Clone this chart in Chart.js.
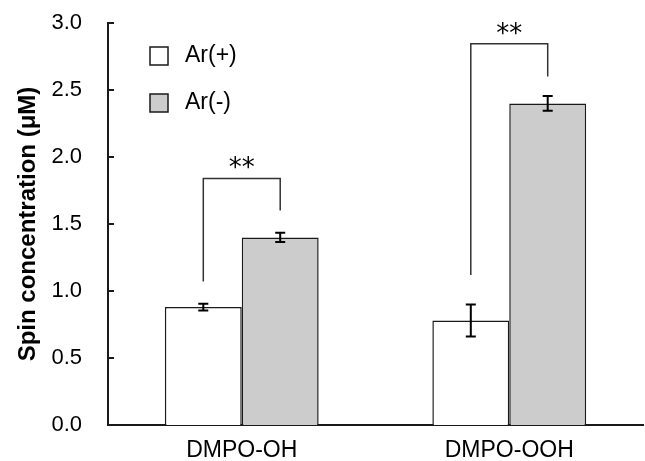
<!DOCTYPE html>
<html>
<head>
<meta charset="utf-8">
<script src="https://cdn.jsdelivr.net/npm/chart.js@4.4.1/dist/chart.umd.min.js"></script>
<style>
  html, body { margin: 0; padding: 0; background: #fff; }
  #wrap { width: 645px; height: 461px; }
</style>
</head>
<body>
<div id="wrap"><canvas id="myChart"></canvas></div>
<script>
// spin concentration, two trapping agents, with / without Ar purge
const categories = ["DMPO-OH", "DMPO-OOH"];
const arPlus = [0.88, 0.78];
const arPlusErr = [0.025, 0.12];
const arMinus = [1.40, 2.40];
const arMinusErr = [0.035, 0.055];

// significance brackets (left end, top, right end) and their marks
const bracketLeft = [1.07, 1.12];
const bracketTop = [1.84, 2.845];
const bracketRight = [1.60, 2.60];
const bracketMark = ["**", "**"];

const yMin = 0;
const yMax = 3.0;
const yStep = 0.5;

const errors = [arPlusErr, arMinusErr];
const ink = "#1a1a1a";

// error bars on top of each bar
const errorBars = {
  id: "errorBars",
  afterDatasetsDraw(chart) {
    const ctx = chart.ctx;
    const y = chart.scales.y;
    ctx.save();
    ctx.strokeStyle = "#000";
    ctx.lineWidth = 2;
    chart.data.datasets.forEach(function(ds, di) {
      const meta = chart.getDatasetMeta(di);
      meta.data.forEach(function(bar, i) {
        const v = ds.data[i];
        const e = errors[di][i];
        const top = y.getPixelForValue(v + e);
        const bot = y.getPixelForValue(v - e);
        ctx.beginPath();
        ctx.moveTo(bar.x, top);
        ctx.lineTo(bar.x, bot);
        ctx.moveTo(bar.x - 5, top);
        ctx.lineTo(bar.x + 5, top);
        ctx.moveTo(bar.x - 5, bot);
        ctx.lineTo(bar.x + 5, bot);
        ctx.stroke();
      });
    });
    ctx.restore();
  }
};

// brackets with ** between the two bars of each group
const brackets = {
  id: "brackets",
  afterDatasetsDraw(chart) {
    const ctx = chart.ctx;
    const y = chart.scales.y;
    const m0 = chart.getDatasetMeta(0);
    const m1 = chart.getDatasetMeta(1);
    ctx.save();
    ctx.strokeStyle = "#333";
    ctx.lineWidth = 1.5;
    for (let i = 0; i < categories.length; i++) {
      const x0 = m0.data[i].x;
      const x1 = m1.data[i].x;
      const yt = y.getPixelForValue(bracketTop[i]);
      ctx.beginPath();
      ctx.moveTo(x0, y.getPixelForValue(bracketLeft[i]));
      ctx.lineTo(x0, yt);
      ctx.lineTo(x1, yt);
      ctx.lineTo(x1, y.getPixelForValue(bracketRight[i]));
      ctx.stroke();
      ctx.fillStyle = "#000";
      ctx.font = "26px 'DejaVu Sans'";
      ctx.textAlign = "center";
      ctx.textBaseline = "middle";
      ctx.fillText(bracketMark[i], (x0 + x1) / 2, yt - 9);
    }
    ctx.restore();
  }
};

// inward tick marks on the y axis
const innerTicks = {
  id: "innerTicks",
  afterDraw(chart) {
    const ctx = chart.ctx;
    const y = chart.scales.y;
    const left = chart.chartArea.left;
    ctx.save();
    ctx.strokeStyle = ink;
    ctx.lineWidth = 2;
    y.ticks.forEach(function(t) {
      const py = Math.round(y.getPixelForValue(t.value));
      ctx.beginPath();
      ctx.moveTo(left, py);
      ctx.lineTo(left + 6, py);
      ctx.stroke();
    });
    ctx.restore();
  }
};

// legend box inside the plot, top left
const boxLegend = {
  id: "boxLegend",
  afterDraw(chart) {
    const ctx = chart.ctx;
    const rows = [56, 103];
    ctx.save();
    chart.data.datasets.forEach(function(ds, i) {
      const cy = rows[i];
      ctx.fillStyle = ds.backgroundColor;
      ctx.fillRect(150, cy - 9, 18, 18);
      ctx.strokeStyle = ink;
      ctx.lineWidth = 1.5;
      ctx.strokeRect(150, cy - 9, 18, 18);
      ctx.fillStyle = "#000";
      ctx.font = "23px 'Liberation Sans', Arial, sans-serif";
      ctx.textAlign = "left";
      ctx.textBaseline = "middle";
      ctx.fillText(ds.label, 185, cy);
    });
    ctx.restore();
  }
};

const myChart = new Chart(document.getElementById("myChart"), {
  type: "bar",
  data: {
    labels: categories,
    datasets: [
      {
        label: "Ar(+)",
        data: arPlus,
        backgroundColor: "#ffffff",
        borderColor: ink,
        borderWidth: 1.5,
        categoryPercentage: 0.575,
        barPercentage: 1.0
      },
      {
        label: "Ar(-)",
        data: arMinus,
        backgroundColor: "#cccccc",
        borderColor: ink,
        borderWidth: 1.5,
        categoryPercentage: 0.575,
        barPercentage: 1.0
      }
    ]
  },
  options: {
    responsive: true,
    maintainAspectRatio: false,
    animation: false,
    layout: { padding: { top: 23, right: 2, left: 0, bottom: 0 } },
    plugins: {
      legend: { display: false },
      tooltip: { enabled: false }
    },
    scales: {
      x: {
        grid: { display: false, drawTicks: false },
        border: { display: true, color: ink, width: 2 },
        ticks: {
          color: "#000",
          padding: 12,
          font: { family: "'Liberation Sans', Arial, sans-serif", size: 23 }
        },
        afterFit: function(scale) { scale.height = 36; }
      },
      y: {
        min: yMin,
        max: yMax,
        grid: { display: false, drawTicks: false },
        border: { display: true, color: ink, width: 2 },
        ticks: {
          stepSize: yStep,
          color: "#000",
          padding: 26,
          font: { family: "'Liberation Sans', Arial, sans-serif", size: 22 },
          callback: function(v) { return Number(v).toFixed(1); }
        },
        title: {
          display: true,
          text: "Spin concentration (μM)",
          color: "#000",
          padding: { top: 14, bottom: 0 },
          font: { family: "'Liberation Sans', Arial, sans-serif", size: 24, weight: "bold" }
        },
        afterFit: function(scale) {
          // keep the plot top/bottom fixed, labels may overhang
          scale.width = 108;
          scale.paddingTop = 0;
          scale.paddingBottom = 0;
        }
      }
    }
  },
  plugins: [errorBars, brackets, innerTicks, boxLegend]
});
</script>
</body>
</html>
